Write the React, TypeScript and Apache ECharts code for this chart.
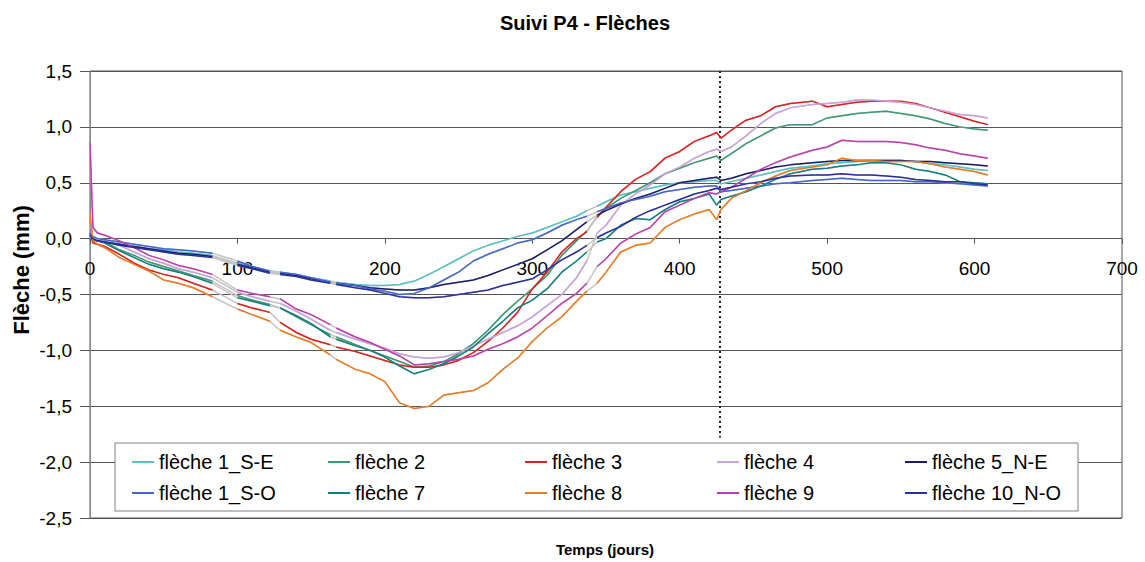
import React, { useEffect, useRef } from "react";
import * as echarts from "echarts";

// Days (x values); null entries in the series mark acquisition gaps
const DAYS = [0, 2, 5, 10, 20, 30, 40, 50, 60, 70, 83, 91, 100, 110, 122, 125, 129, 140, 150, 163, 165, 167, 180, 190, 200, 210, 220, 230, 240, 250, 260, 270, 280, 290, 300, 310, 320, 330, 337, 340, 344, 350, 360, 370, 380, 390, 400, 410, 420, 425, 428, 435, 445, 455, 465, 475, 490, 500, 510, 520, 530, 540, 550, 560, 570, 580, 590, 600, 609];

const F1_SE = [0.03, 0.0, -0.02, -0.03, -0.05, -0.07, -0.09, -0.1, -0.12, -0.13,
  -0.15, null, -0.22, -0.25, -0.29, null, -0.3, -0.32, -0.35, -0.38,
  null, -0.39, -0.41, -0.42, -0.42, -0.41, -0.38, -0.32, -0.25, -0.18,
  -0.11, -0.06, -0.02, 0.02, 0.05, 0.1, 0.15, 0.2, 0.25, null,
  0.29, 0.33, 0.39, 0.42, 0.45, 0.48, 0.5, 0.51, 0.52, 0.52,
  0.49, 0.51, 0.54, 0.57, 0.6, 0.63, 0.65, 0.67, 0.68, 0.69,
  0.7, 0.7, 0.7, 0.69, 0.67, 0.66, 0.64, 0.62, 0.61];

const F2 = [0.01, 0.0, -0.01, -0.03, -0.1, -0.15, -0.21, -0.25, -0.29, -0.33,
  -0.38, null, -0.51, -0.55, -0.59, null, -0.62, -0.7, -0.77, -0.86,
  null, -0.88, -0.95, -1.0, -1.05, -1.1, -1.15, -1.14, -1.1, -1.03,
  -0.94, -0.82, -0.68, -0.56, -0.45, -0.33, -0.15, -0.02, 0.07, null,
  0.2, 0.27, 0.36, 0.43, 0.5, 0.58, 0.63, 0.68, 0.72, 0.74,
  0.7, 0.76, 0.85, 0.92, 0.99, 1.02, 1.02, 1.08, 1.1, 1.12,
  1.13, 1.14, 1.12, 1.1, 1.07, 1.03, 1.0, 0.98, 0.97];

const F3 = [0.05, -0.04, -0.05, -0.07, -0.14, -0.22, -0.28, -0.32, -0.35, -0.4,
  -0.46, null, -0.58, -0.62, -0.66, null, -0.75, -0.84, -0.9, -0.95,
  null, -0.97, -1.01, -1.05, -1.09, -1.13, -1.15, -1.15, -1.13, -1.09,
  -1.02, -0.92, -0.8, -0.66, -0.45, -0.3, -0.12, 0.0, 0.06, null,
  0.19, 0.28, 0.42, 0.53, 0.6, 0.72, 0.78, 0.87, 0.92, 0.95,
  0.9, 0.97, 1.06, 1.1, 1.18, 1.21, 1.23, 1.18, 1.2, 1.22,
  1.23, 1.23, 1.23, 1.21, 1.17, 1.13, 1.09, 1.05, 1.02];

const F4 = [0.02, 0.0, -0.01, -0.02, -0.06, -0.12, -0.18, -0.22, -0.27, -0.3,
  -0.35, null, -0.48, -0.52, -0.56, null, -0.58, -0.65, -0.72, -0.82,
  null, -0.84, -0.9, -0.94, -0.98, -1.03, -1.06, -1.07, -1.06, -1.02,
  -0.96, -0.9, -0.84, -0.78, -0.7, -0.6, -0.5, -0.35, -0.2, null,
  0.05, 0.12, 0.3, 0.4, 0.48, 0.58, 0.64, 0.72, 0.78, 0.8,
  0.78, 0.82, 0.92, 1.03, 1.12, 1.17, 1.2, 1.21, 1.22, 1.24,
  1.24, 1.23, 1.22, 1.2, 1.17, 1.14, 1.11, 1.1, 1.08];

const F5_NE = [0.0, -0.01, -0.02, -0.03, -0.05, -0.07, -0.09, -0.11, -0.13, -0.14,
  -0.16, null, -0.23, -0.26, -0.3, null, -0.31, -0.33, -0.36, -0.39,
  null, -0.4, -0.42, -0.44, -0.45, -0.46, -0.46, -0.44, -0.41, -0.39,
  -0.37, -0.33, -0.28, -0.23, -0.18, -0.1, -0.02, 0.08, 0.15, null,
  0.21, 0.25, 0.31, 0.36, 0.4, 0.45, 0.5, 0.52, 0.54, 0.55,
  0.52, 0.54, 0.58, 0.61, 0.64, 0.66, 0.68, 0.69, 0.7, 0.7,
  0.7, 0.7, 0.7, 0.69, 0.69, 0.68, 0.67, 0.66, 0.65];

const F1_SO = [0.05, 0.02, 0.0, -0.01, -0.03, -0.05, -0.07, -0.09, -0.1, -0.11,
  -0.13, null, -0.2, -0.25, -0.29, null, -0.3, -0.32, -0.35, -0.39,
  null, -0.4, -0.42, -0.45, -0.47, -0.5, -0.49, -0.44, -0.37, -0.3,
  -0.2, -0.14, -0.09, -0.04, -0.01, 0.05, 0.12, 0.17, 0.2, null,
  0.24, 0.27, 0.32, 0.35, 0.38, 0.42, 0.44, 0.46, 0.47, 0.47,
  0.42, 0.43, 0.45, 0.47, 0.49, 0.5, 0.52, 0.53, 0.54, 0.53,
  0.52, 0.52, 0.52, 0.51, 0.51, 0.5, 0.49, 0.48, 0.47];

const F7 = [0.0, -0.01, -0.02, -0.04, -0.11, -0.17, -0.23, -0.27, -0.3, -0.34,
  -0.4, null, -0.53, -0.56, -0.6, null, -0.62, -0.69, -0.76, -0.88,
  null, -0.9, -0.96, -1.0, -1.06, -1.14, -1.21, -1.17, -1.12, -1.05,
  -0.97, -0.85, -0.74, -0.62, -0.55, -0.45, -0.3, -0.2, -0.12, null,
  -0.03, 0.0, 0.12, 0.18, 0.17, 0.26, 0.33, 0.36, 0.4, 0.3,
  0.35, 0.38, 0.42, 0.47, 0.53, 0.58, 0.62, 0.63, 0.65, 0.66,
  0.68, 0.68, 0.66, 0.62, 0.6, 0.57, 0.51, 0.5, 0.49];

const F8 = [0.22, -0.02, -0.05, -0.08, -0.17, -0.23, -0.29, -0.37, -0.4, -0.44,
  -0.52, null, -0.63, -0.68, -0.74, null, -0.82, -0.88, -0.93, -1.04,
  null, -1.08, -1.17, -1.21, -1.28, -1.47, -1.52, -1.5, -1.4, -1.38,
  -1.36, -1.29, -1.17, -1.07, -0.92, -0.8, -0.7, -0.56, -0.47, null,
  -0.4, -0.3, -0.12, -0.06, -0.04, 0.1, 0.17, 0.22, 0.26, 0.17,
  0.26, 0.36, 0.43, 0.5, 0.56, 0.61, 0.64, 0.66, 0.72, 0.7,
  0.7, 0.69, 0.69, 0.69, 0.67, 0.64, 0.62, 0.6, 0.57];

const F9 = [0.86, 0.1, 0.05, 0.03, -0.02, -0.08, -0.15, -0.19, -0.24, -0.27,
  -0.32, null, -0.46, -0.49, -0.52, null, -0.54, -0.63, -0.68, -0.77,
  null, -0.8, -0.88, -0.93, -0.99, -1.05, -1.13, -1.12, -1.1, -1.08,
  -1.05, -0.99, -0.94, -0.88, -0.8, -0.69, -0.58, -0.49, -0.4, null,
  -0.25, -0.18, -0.04, 0.04, 0.1, 0.24, 0.3, 0.36, 0.41, 0.4,
  0.42, 0.46, 0.54, 0.62, 0.68, 0.73, 0.79, 0.82, 0.88, 0.87,
  0.87, 0.87, 0.86, 0.84, 0.81, 0.79, 0.76, 0.74, 0.72];

const F10_NO = [0.03, 0.0, -0.02, -0.03, -0.06, -0.08, -0.1, -0.12, -0.14, -0.15,
  -0.17, null, -0.24, -0.27, -0.31, null, -0.32, -0.34, -0.37, -0.4,
  null, -0.41, -0.44, -0.46, -0.49, -0.52, -0.53, -0.53, -0.52, -0.5,
  -0.48, -0.46, -0.42, -0.39, -0.36, -0.28, -0.19, -0.12, -0.06, null,
  0.01, 0.05, 0.11, 0.19, 0.25, 0.3, 0.35, 0.4, 0.43, 0.45,
  0.44, 0.46, 0.49, 0.51, 0.54, 0.56, 0.57, 0.57, 0.58, 0.57,
  0.57, 0.56, 0.55, 0.53, 0.52, 0.51, 0.51, 0.49, 0.48];

const NAMES = ["flèche 1_S-E", "flèche 2", "flèche 3", "flèche 4", "flèche 5_N-E",
  "flèche 1_S-O", "flèche 7", "flèche 8", "flèche 9", "flèche 10_N-O"];
const VALUES = [F1_SE, F2, F3, F4, F5_NE, F1_SO, F7, F8, F9, F10_NO];
const COLORS = ["#55C4C4", "#3A9A70", "#E0201E", "#C9A2DE", "#1C1C6B",
  "#4466CC", "#0F8080", "#F07A1C", "#C03CB0", "#2B2F9E"];

const X_TICKS = { min: 0, max: 700, interval: 100 };
const Y_TICKS = { min: -2.5, max: 1.5, interval: 0.5 };
const EVENT_DAY = 427;
const EVENT_LINE_BOTTOM = -1.78; // dotted marker stops just above the legend box

const FONT = "'Liberation Sans', Arial, sans-serif";
const LEGEND_COLS = [132, 328, 525, 717, 905];

const GRID_TOP = 71;
const GRID_H = 447;

export default function App() {
  const ref = useRef<HTMLDivElement>(null);
  useEffect(() => {
    if (!ref.current) return;
    const chart = echarts.init(ref.current, undefined, { renderer: "svg" });
    const toData = (vals: (number | null)[]) =>
      DAYS.map((d, i) => [d, vals[i] === null ? "-" : vals[i]]);

    // x axis crosses the y axis at 0: shift it up from the grid bottom
    const zeroOffset = -GRID_H * (0 - Y_TICKS.min) / (Y_TICKS.max - Y_TICKS.min);

    const gapSeries = VALUES.map((vals, i) => ({
      name: "gap" + i,
      type: "line",
      data: toData(vals),
      connectNulls: true,
      symbol: "none",
      z: 1,
      silent: true,
      lineStyle: { color: "#C4C4C4", width: 1.5 },
    }));
    const mainSeries = VALUES.map((vals, i) => ({
      name: NAMES[i],
      type: "line",
      data: toData(vals),
      connectNulls: false,
      symbol: "none",
      z: 2,
      color: COLORS[i],
      lineStyle: { color: COLORS[i], width: 1.5 },
      ...(i === 0
        ? {
            markLine: {
              silent: true,
              z: 2,
              symbol: "none",
              label: { show: false },
              lineStyle: { color: "#222", width: 2, type: [2, 3] },
              data: [[
                { coord: [EVENT_DAY, Y_TICKS.max] },
                { coord: [EVENT_DAY, EVENT_LINE_BOTTOM] },
              ]],
            },
          }
        : {}),
    }));

    const legends = LEGEND_COLS.map((left, c) => ({
      orient: "vertical",
      left,
      top: 452,
      padding: 0,
      itemGap: 11,
      itemWidth: 22,
      itemHeight: 2,
      icon: "rect",
      selectedMode: false,
      z: 5,
      textStyle: { fontSize: 20, lineHeight: 20, color: "#000", fontFamily: FONT },
      data: [NAMES[c], NAMES[c + 5]],
    }));

    chart.setOption({
      animation: false,
      backgroundColor: "#fff",
      title: {
        text: "Suivi P4 - Flèches",
        left: 495,
        top: 8,
        textStyle: { fontSize: 20, fontWeight: "bold", color: "#000", fontFamily: FONT },
      },
      grid: { left: 90, top: GRID_TOP, width: 1032, height: GRID_H, show: true, borderColor: "#555", borderWidth: 1 },
      xAxis: {
        type: "value",
        ...X_TICKS,
        position: "bottom",
        offset: zeroOffset,
        axisLine: { onZero: false, lineStyle: { color: "#555" } },
        axisTick: { show: true, length: 5, lineStyle: { color: "#555" } },
        axisLabel: { fontSize: 19, margin: 20, color: "#000", fontFamily: FONT },
        splitLine: { show: false },
      },
      yAxis: {
        type: "value",
        ...Y_TICKS,
        axisLine: { show: true, lineStyle: { color: "#888" } },
        axisTick: { show: true, length: 10, lineStyle: { color: "#555" } },
        axisLabel: {
          fontSize: 19,
          margin: 18,
          color: "#000",
          fontFamily: FONT,
          formatter: (v: number) => v.toFixed(1).replace(".", ","),
        },
        splitLine: { show: true, lineStyle: { color: "#555", width: 1 } },
      },
      legend: legends,
      graphic: [
        {
          type: "rect",
          z: 3,
          shape: { x: 115, y: 443, width: 963, height: 68 },
          style: { fill: "#fff", stroke: "#808080", lineWidth: 1 },
        },
        {
          type: "text",
          x: 21,
          y: 270,
          rotation: Math.PI / 2,
          style: {
            text: "Flèche (mm)",
            fontSize: 22,
            fontWeight: "bold",
            fontFamily: FONT,
            fill: "#000",
            align: "center",
            verticalAlign: "middle",
          },
        },
        {
          type: "text",
          x: 605,
          y: 549,
          style: {
            text: "Temps (jours)",
            fontSize: 15,
            fontWeight: "bold",
            fontFamily: FONT,
            fill: "#000",
            align: "center",
            verticalAlign: "middle",
          },
        },
      ],
      series: [...gapSeries, ...mainSeries],
    });
    return () => chart.dispose();
  }, []);
  return (
    <div
      ref={ref}
      style={{ position: "absolute", left: 0, top: 0, width: 1145, height: 562 }}
    />
  );
}
